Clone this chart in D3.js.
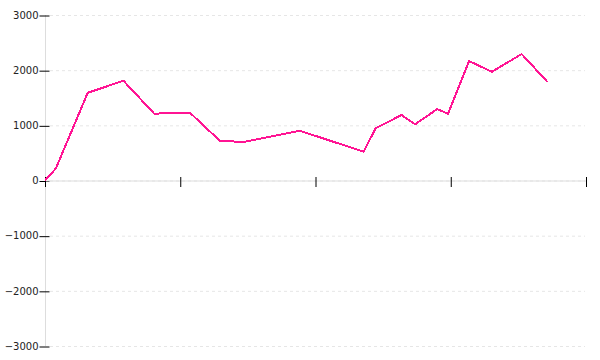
<!DOCTYPE html>
<html>
<head>
<meta charset="utf-8">
<script src="https://cdn.jsdelivr.net/npm/d3@7"></script>
<style>
  body { margin: 0; background: #fff; }
  svg { display: block; }
</style>
</head>
<body>
<div id="chart"></div>
<script>
var svgWidth = 600; // whole page
var svgHeight = 360;

var margin = { top: 15, right: 14, bottom: 14, left: 45 };
var width = svgWidth - margin.left - margin.right;
var height = svgHeight - margin.top - margin.bottom;

// data
var xValues = [0, 2, 7.9, 14.5, 20.2, 23.7, 26.8, 32.3, 36.7, 47.1, 58.9, 61.1, 65.9, 68.4, 72.5, 74.5, 78.4, 82.6, 88.1, 92.9];
var yValues = [0, 217, 1590, 1808, 1210, 1228, 1228, 721, 697, 902, 522, 945, 1187, 1018, 1295, 1210, 2165, 1971, 2292, 1784];
var xTicks = [0, 25, 50, 75, 100];
var yTicks = [-3000, -2000, -1000, 0, 1000, 2000, 3000];

var points = xValues.map((x, i) => ({ x: x, y: yValues[i] }));

var svg = d3.select("#chart").append("svg")
    .attr("width", svgWidth)
    .attr("height", svgHeight);

var g = svg.append("g")
    .attr("transform", `translate(${margin.left}, ${margin.top})`);

var x = d3.scaleLinear().domain([0, 100]).range([0, width]);
var y = d3.scaleLinear().domain([-3000, 3000]).range([height, 0]);

// dashed grid
g.append("g").selectAll("line")
    .data(yTicks)
    .join("line")
    .attr("x1", 5)
    .attr("x2", width - 1)
    .attr("y1", d => y(d) + 0.5)
    .attr("y2", d => y(d) + 0.5)
    .attr("stroke", "#e6e6e6")
    .attr("stroke-dasharray", "3,3");

// y axis
var yAxis = g.append("g")
    .attr("transform", "translate(0.5,0)")
    .call(d3.axisLeft(y).tickValues(yTicks).tickSize(6).tickPadding(1).tickFormat(d3.format("d")));
yAxis.select(".domain").attr("stroke", "#ddd").attr("d", `M0,${y(3000)}V${y(-3000)}`);
yAxis.selectAll(".tick line").attr("x1", -6).attr("x2", 4).attr("stroke", "#000").attr("transform", "translate(0,0.5)");
yAxis.selectAll(".tick text")
    .attr("x", -7)
    .attr("fill", "#222")
    .style("font-family", "DejaVu Sans")
    .style("font-size", "10px")
    .text(d => d < 0 ? "\u2212" + Math.abs(d) : d);

// x axis (no labels)
var xAxis = g.append("g")
    .attr("transform", `translate(0,${y(0) + 0.5})`)
    .call(d3.axisBottom(x).tickValues(xTicks).tickSize(5).tickFormat(""));
xAxis.select(".domain").attr("stroke", "#ddd").attr("d", `M0,0H${width}`);
xAxis.selectAll(".tick line").attr("y1", -4).attr("y2", 6).attr("stroke", "#000");

// the line
var line = d3.line()
    .x(d => x(d.x))
    .y(d => y(d.y));

g.append("path")
    .datum(points)
    .attr("fill", "none")
    .attr("stroke", "#ff1493")
    .attr("stroke-width", 2)
    .attr("shape-rendering", "crispEdges")
    .attr("d", line);
</script>
</body>
</html>
